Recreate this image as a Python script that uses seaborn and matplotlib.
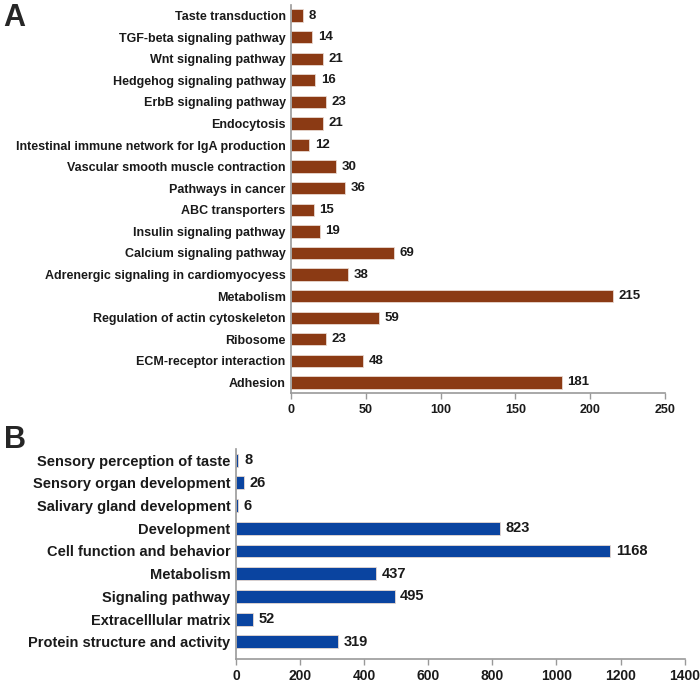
import pandas as pd
import matplotlib
matplotlib.use("Agg")
import matplotlib.pyplot as plt
import seaborn as sns

# Panel A: KEGG pathways
pathways_a = [
    "Taste transduction", "TGF-beta signaling pathway", "Wnt signaling pathway",
    "Hedgehog signaling pathway", "ErbB signaling pathway", "Endocytosis",
    "Intestinal immune network for IgA production", "Vascular smooth muscle contraction",
    "Pathways in cancer", "ABC transporters", "Insulin signaling pathway",
    "Calcium signaling pathway", "Adrenergic signaling in cardiomyocyess", "Metabolism",
    "Regulation of actin cytoskeleton", "Ribosome", "ECM-receptor interaction", "Adhesion",
]
counts_a = [8, 14, 21, 16, 23, 21, 12, 30, 36, 15, 19, 69, 38, 215, 59, 23, 48, 181]
ticks_a = [0, 50, 100, 150, 200, 250]

# Panel B: GO categories
terms_b = [
    "Sensory perception of taste", "Sensory organ development", "Salivary gland development",
    "Development", "Cell function and behavior", "Metabolism", "Signaling pathway",
    "Extracelllular matrix", "Protein structure and activity",
]
counts_b = [8, 26, 6, 823, 1168, 437, 495, 52, 319]
ticks_b = [0, 200, 400, 600, 800, 1000, 1200, 1400]

sns.set_style("ticks")
plt.rcParams['font.family'] = ['Liberation Sans', 'DejaVu Sans']
plt.rcParams['font.weight'] = 'bold'

fig = plt.figure(figsize=(7, 6.85), dpi=100)
ax_a = fig.add_axes([0.416, 0.426, 0.534, 0.567])
ax_b = fig.add_axes([0.337, 0.038, 0.641, 0.307])

df_a = pd.DataFrame({"term": pathways_a, "count": counts_a})
df_b = pd.DataFrame({"term": terms_b, "count": counts_b})


def draw_panel(ax, df, color, ticks, fs, xfs, lab_fs):
    sns.barplot(data=df, x="count", y="term", orient="h", color=color,
                width=0.57, edgecolor="#e8d8d0", linewidth=0.6, ax=ax, saturation=1)
    ax.bar_label(ax.containers[0], padding=4, fontsize=lab_fs, fontweight="bold", color="#1a1a1a")
    ax.set_xlim(ticks[0], ticks[-1])
    ax.set_xticks(ticks)
    ax.set_xlabel("")
    ax.set_ylabel("")
    ax.tick_params(axis="y", length=0, labelsize=fs, colors="#1a1a1a", pad=4)
    ax.tick_params(axis="x", length=4, width=1, color="#999999", labelsize=xfs, labelcolor="#1a1a1a")
    for lbl in ax.get_yticklabels() + ax.get_xticklabels():
        lbl.set_fontweight("bold")
    sns.despine(ax=ax)
    for side in ["left", "bottom"]:
        ax.spines[side].set_color("#999999")
        ax.spines[side].set_linewidth(1.2)


draw_panel(ax_a, df_a, "#8b3a14", ticks_a, 9, 9, 9.5)
draw_panel(ax_b, df_b, "#0a44a0", ticks_b, 10.5, 10, 10.5)
ax_b.set_ylim(8.75, -0.5)

fig.text(0.005, 0.995, "A", fontsize=22, fontweight="bold", va="top", ha="left")
fig.text(0.005, 0.38, "B", fontsize=22, fontweight="bold", va="top", ha="left")

fig.savefig("out.png", dpi=100)
